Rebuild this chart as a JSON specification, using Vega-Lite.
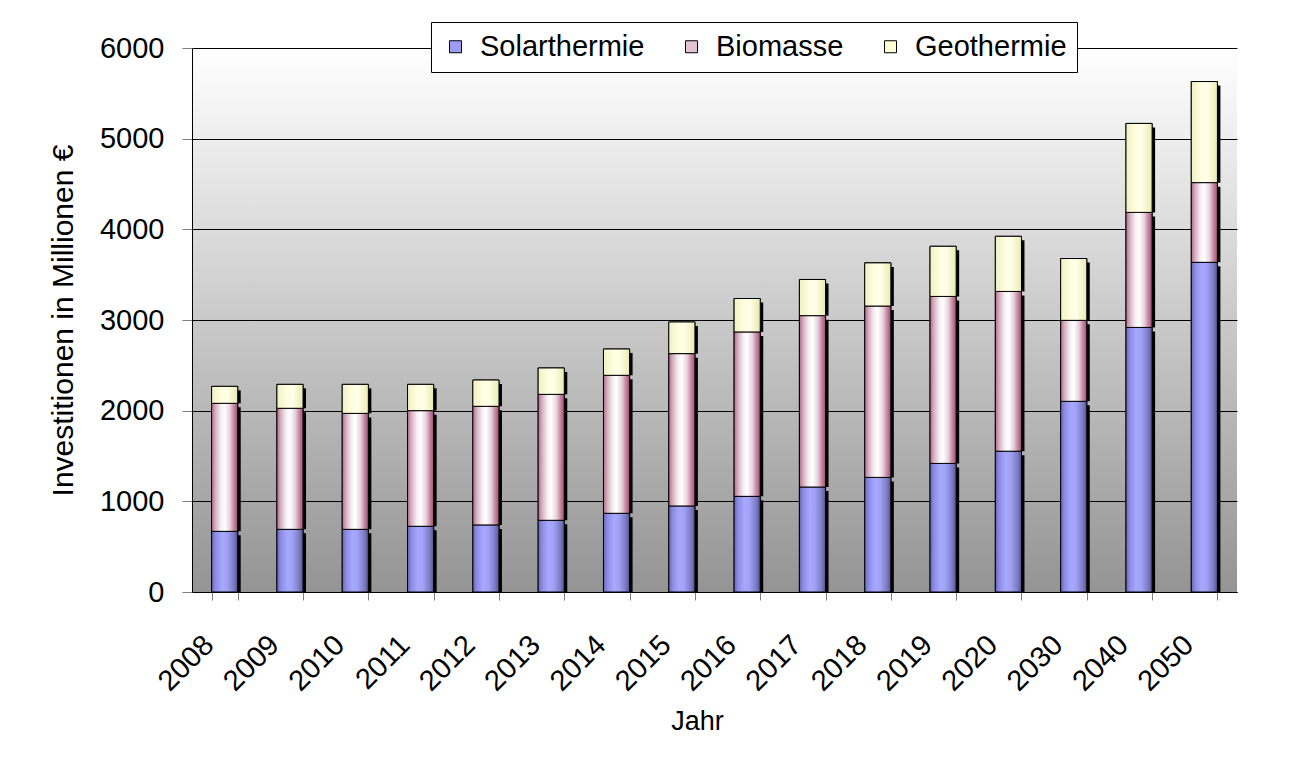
{
  "$schema": "https://vega.github.io/schema/vega-lite/v6.json",
  "width": 1045,
  "height": 544,
  "autosize": {"type": "none"},
  "padding": {"left": 192, "top": 48, "right": 67, "bottom": 179},
  "background": "#ffffff",
  "view": {
    "stroke": null,
    "fill": {
      "gradient": "linear", "x1": 0, "y1": 0, "x2": 0, "y2": 1,
      "stops": [{"offset": 0, "color": "#ffffff"}, {"offset": 1, "color": "#949494"}]
    }
  },
  "config": {"font": "Liberation Sans"},
  "data": {
    "values": [
      {"Jahr": "2008", "Serie": "Solarthermie", "Wert": 669}, {"Jahr": "2008", "Serie": "Biomasse", "Wert": 1412}, {"Jahr": "2008", "Serie": "Geothermie", "Wert": 187},
      {"Jahr": "2009", "Serie": "Solarthermie", "Wert": 691}, {"Jahr": "2009", "Serie": "Biomasse", "Wert": 1335}, {"Jahr": "2009", "Serie": "Geothermie", "Wert": 264},
      {"Jahr": "2010", "Serie": "Solarthermie", "Wert": 691}, {"Jahr": "2010", "Serie": "Biomasse", "Wert": 1279}, {"Jahr": "2010", "Serie": "Geothermie", "Wert": 320},
      {"Jahr": "2011", "Serie": "Solarthermie", "Wert": 725}, {"Jahr": "2011", "Serie": "Biomasse", "Wert": 1275}, {"Jahr": "2011", "Serie": "Geothermie", "Wert": 290},
      {"Jahr": "2012", "Serie": "Solarthermie", "Wert": 740}, {"Jahr": "2012", "Serie": "Biomasse", "Wert": 1308}, {"Jahr": "2012", "Serie": "Geothermie", "Wert": 290},
      {"Jahr": "2013", "Serie": "Solarthermie", "Wert": 791}, {"Jahr": "2013", "Serie": "Biomasse", "Wert": 1389}, {"Jahr": "2013", "Serie": "Geothermie", "Wert": 291},
      {"Jahr": "2014", "Serie": "Solarthermie", "Wert": 868}, {"Jahr": "2014", "Serie": "Biomasse", "Wert": 1522}, {"Jahr": "2014", "Serie": "Geothermie", "Wert": 290},
      {"Jahr": "2015", "Serie": "Solarthermie", "Wert": 949}, {"Jahr": "2015", "Serie": "Biomasse", "Wert": 1680}, {"Jahr": "2015", "Serie": "Geothermie", "Wert": 349},
      {"Jahr": "2016", "Serie": "Solarthermie", "Wert": 1055}, {"Jahr": "2016", "Serie": "Biomasse", "Wert": 1813}, {"Jahr": "2016", "Serie": "Geothermie", "Wert": 369},
      {"Jahr": "2017", "Serie": "Solarthermie", "Wert": 1158}, {"Jahr": "2017", "Serie": "Biomasse", "Wert": 1890}, {"Jahr": "2017", "Serie": "Geothermie", "Wert": 399},
      {"Jahr": "2018", "Serie": "Solarthermie", "Wert": 1264}, {"Jahr": "2018", "Serie": "Biomasse", "Wert": 1890}, {"Jahr": "2018", "Serie": "Geothermie", "Wert": 476},
      {"Jahr": "2019", "Serie": "Solarthermie", "Wert": 1418}, {"Jahr": "2019", "Serie": "Biomasse", "Wert": 1842}, {"Jahr": "2019", "Serie": "Geothermie", "Wert": 553},
      {"Jahr": "2020", "Serie": "Solarthermie", "Wert": 1553}, {"Jahr": "2020", "Serie": "Biomasse", "Wert": 1762}, {"Jahr": "2020", "Serie": "Geothermie", "Wert": 608},
      {"Jahr": "2030", "Serie": "Solarthermie", "Wert": 2103}, {"Jahr": "2030", "Serie": "Biomasse", "Wert": 893}, {"Jahr": "2030", "Serie": "Geothermie", "Wert": 682},
      {"Jahr": "2040", "Serie": "Solarthermie", "Wert": 2918}, {"Jahr": "2040", "Serie": "Biomasse", "Wert": 1269}, {"Jahr": "2040", "Serie": "Geothermie", "Wert": 981},
      {"Jahr": "2050", "Serie": "Solarthermie", "Wert": 3636}, {"Jahr": "2050", "Serie": "Biomasse", "Wert": 879}, {"Jahr": "2050", "Serie": "Geothermie", "Wert": 1115}
    ]
  },
  "transform": [
    {"calculate": "indexof(['Solarthermie','Biomasse','Geothermie'], datum.Serie)", "as": "ord"},
    {"stack": "Wert", "groupby": ["Jahr"], "sort": [{"field": "ord", "order": "ascending"}], "as": ["v0", "v1"]}
  ],
  "encoding": {
    "x": {
      "field": "Jahr", "type": "nominal", "sort": null,
      "scale": {"paddingInner": 0.6, "paddingOuter": 0.3},
      "axis": {
        "title": "Jahr", "grid": false,
        "labelAngle": -45, "labelAlign": "right", "labelBaseline": "top",
        "labelFontSize": 29, "labelColor": "#000000", "labelOffset": -26, "labelPadding": 30,
        "tickSize": 8, "tickBand": "extent", "tickColor": "#808080", "domainColor": "#000000",
        "titleFontSize": 27, "titleFontWeight": "normal", "titleColor": "#000000",
        "titleX": 505, "titleY": 116, "titleBaseline": "top"
      }
    },
    "y": {
      "field": "v0", "type": "quantitative",
      "scale": {"domain": [0, 6000], "nice": false},
      "axis": {
        "title": "Investitionen in Millionen €",
        "values": [0, 1000, 2000, 3000, 4000, 5000, 6000], "format": "d",
        "grid": true, "gridColor": "#000000", "gridWidth": 1, "gridOpacity": 1,
        "tickSize": 10, "tickColor": "#808080", "domainColor": "#000000",
        "labelFontSize": 29, "labelColor": "#000000", "labelPadding": 18,
        "titleFontSize": 30, "titleFontWeight": "normal", "titleColor": "#000000",
        "titleX": -129, "titleBaseline": "middle"
      }
    },
    "y2": {"field": "v1"}
  },
  "layer": [
    {
      "mark": {"type": "bar", "fill": "#000000", "xOffset": 3, "y2Offset": 4}
    },
    {
      "mark": {"type": "bar", "stroke": "#000000", "strokeWidth": 1, "fillOpacity": 1},
      "encoding": {
        "color": {
          "field": "Serie", "type": "nominal",
          "scale": {"domain": ["Solarthermie", "Biomasse", "Geothermie"], "range": ["#9c9cf5", "#e4c4d2", "#ffffd6"]},
          "legend": {
            "orient": "none", "legendX": 239, "legendY": -26, "direction": "horizontal",
            "title": null, "fillColor": "#ffffff", "strokeColor": "#000000", "padding": 10,
            "labelFontSize": 29, "labelColor": "#000000", "labelOffset": 10, "labelLimit": 400, "columnPadding": 32,
            "symbolType": "square", "symbolSize": 144, "symbolStrokeColor": "#000000", "symbolStrokeWidth": 1, "symbolOpacity": 1
          }
        }
      }
    },
    {
      "transform": [{"filter": "datum.Serie === 'Solarthermie'"}],
      "mark": {
        "type": "bar", "stroke": "#000000", "strokeWidth": 1,
        "fill": {"gradient": "linear", "x1": 0, "y1": 0, "x2": 1, "y2": 0,
          "stops": [{"offset": 0, "color": "#6666b3"}, {"offset": 0.15, "color": "#8c8ce6"}, {"offset": 0.4, "color": "#a8a8ff"}, {"offset": 0.6, "color": "#a0a0f5"}, {"offset": 0.85, "color": "#7b7bc4"}, {"offset": 1, "color": "#55558f"}]}
      }
    },
    {
      "transform": [{"filter": "datum.Serie === 'Biomasse'"}],
      "mark": {
        "type": "bar", "stroke": "#000000", "strokeWidth": 1,
        "fill": {"gradient": "linear", "x1": 0, "y1": 0, "x2": 1, "y2": 0,
          "stops": [{"offset": 0, "color": "#b56a8c"}, {"offset": 0.15, "color": "#d6b0c2"}, {"offset": 0.35, "color": "#f6eef2"}, {"offset": 0.5, "color": "#ffffff"}, {"offset": 0.7, "color": "#e8d2dc"}, {"offset": 0.85, "color": "#c68aa3"}, {"offset": 1, "color": "#a34d75"}]}
      }
    },
    {
      "transform": [{"filter": "datum.Serie === 'Geothermie'"}],
      "mark": {
        "type": "bar", "stroke": "#000000", "strokeWidth": 1,
        "fill": {"gradient": "linear", "x1": 0, "y1": 0, "x2": 1, "y2": 0,
          "stops": [{"offset": 0, "color": "#f0f0c4"}, {"offset": 0.4, "color": "#ffffe0"}, {"offset": 0.6, "color": "#ffffea"}, {"offset": 1, "color": "#eaeab0"}]}
      }
    }
  ]
}
